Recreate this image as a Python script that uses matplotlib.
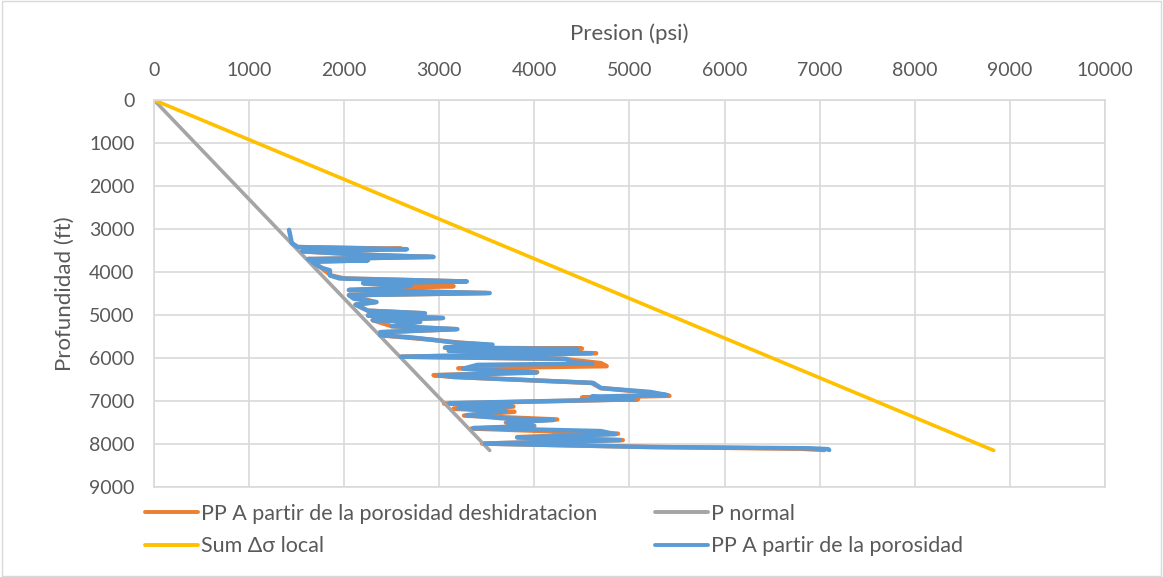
import numpy as np
import matplotlib.pyplot as plt

plt.rcParams['font.family'] = ['Lato', 'DejaVu Sans']

# ---------------------------------------------------------------
# data (depth ft, pressure psi)
# ---------------------------------------------------------------
normal_depth = [0, 8150]
normal_pres = [0, 3530]

sum_depth = [0, 8150]
sum_pres = [0, 8830]

blue_pts = [(3020, 1420), (3330, 1450), (3420, 1510), (3470, 2660), (3520, 1560),
            (3600, 2200), (3650, 2940), (3700, 1620), (3730, 2250), (3760, 1660),
            (3820, 1700), (3900, 1760), (3960, 1850), (4080, 1850), (4150, 1950),
            (4220, 3290), (4260, 2200), (4320, 2700), (4380, 2450), (4420, 2050),
            (4490, 3530), (4540, 2050), (4620, 2100), (4700, 2340), (4760, 2120),
            (4900, 2250), (4960, 2850), (5010, 2250), (5070, 3040), (5120, 2300),
            (5160, 2800), (5260, 2500), (5330, 3190), (5400, 2380), (5470, 2380),
            (5520, 2700), (5580, 2940), (5640, 3150), (5690, 3560), (5760, 3060),
            (5790, 4450), (5830, 3100), (5890, 4600), (5970, 2600), (6020, 4340),
            (6100, 4400), (6130, 4610), (6160, 3400), (6250, 3250), (6340, 4020),
            (6400, 3000), (6440, 3150), (6580, 4620), (6700, 4700), (6790, 5220),
            (6860, 5390), (6900, 4600), (6960, 5050), (7050, 3110), (7120, 3760),
            (7170, 3200), (7240, 3700), (7330, 3290), (7400, 3650), (7440, 4200),
            (7500, 3720), (7580, 3990), (7630, 3360), (7700, 4700), (7770, 4850),
            (7850, 3820), (7910, 4900), (7990, 3480), (8070, 5200), (8100, 6900),
            (8120, 7090), (8140, 7100)]

orange_pts = [(3330, 1450), (3420, 1510), (3460, 2600), (3520, 1560), (3600, 2250),
              (3650, 2900), (3700, 1620), (3730, 2200), (3760, 1660), (3900, 1760),
              (4080, 1860), (4150, 2000), (4220, 3250), (4260, 2200), (4330, 3150),
              (4380, 2450), (4420, 2050), (4490, 3500), (4540, 2050), (4700, 2330),
              (4760, 2120), (4900, 2250), (4960, 2830), (5010, 2250), (5070, 3030),
              (5120, 2300), (5260, 2500), (5330, 3170), (5400, 2380), (5470, 2380),
              (5580, 2940), (5640, 3200), (5690, 3500), (5760, 3060), (5780, 4500),
              (5830, 3100), (5890, 4650), (5970, 2600), (6020, 4300), (6120, 4700),
              (6190, 4760), (6240, 3200), (6330, 4030), (6400, 2940), (6440, 3150),
              (6580, 4600), (6700, 4700), (6800, 5200), (6880, 5420), (6920, 4500),
              (6960, 5090), (7060, 3050), (7130, 3780), (7180, 3150), (7250, 3790),
              (7340, 3260), (7430, 4240), (7500, 3700), (7580, 4000), (7640, 3340),
              (7760, 4880), (7840, 3820), (7910, 4930), (7990, 3450), (8070, 5250),
              (8110, 6800), (8140, 7050)]

blue_depth = [d for d, p in blue_pts]
blue_pres = [p for d, p in blue_pts]
orange_depth = [d for d, p in orange_pts]
orange_pres = [p for d, p in orange_pts]

# ---------------------------------------------------------------
# plot
# ---------------------------------------------------------------
txt = '#595959'
grid = '#d9d9d9'

fig = plt.figure(figsize=(11.63, 5.77), dpi=100)
ax = fig.add_axes([0.1324, 0.156, 0.8177, 0.6707])

kw = dict(solid_capstyle='round', solid_joinstyle='round')
l_or, = ax.plot(orange_pres, orange_depth, color='#ED7D31', lw=3.2, **kw)
l_gr, = ax.plot(normal_pres, normal_depth, color='#A5A5A5', lw=2.6, **kw)
l_ye, = ax.plot(sum_pres, sum_depth, color='#FFC000', lw=2.6, **kw)
l_bl, = ax.plot(blue_pres, blue_depth, color='#5B9BD5', lw=3.2, **kw)

ax.set_xlim(0, 10000)
ax.set_ylim(9000, 0)
ax.set_xticks(np.arange(0, 10001, 1000))
ax.set_yticks(np.arange(0, 9001, 1000))
ax.xaxis.tick_top()
ax.xaxis.set_label_position('top')
ax.tick_params(axis='x', length=0, labelsize=14, colors=txt, pad=15)
ax.tick_params(axis='y', length=0, labelsize=14, colors=txt, pad=14)
ax.grid(True, color=grid, lw=1.2)
ax.set_axisbelow(True)
for s in ax.spines.values():
    s.set_color(grid)
    s.set_linewidth(1.2)

ax.set_xlabel('Presion (psi)', fontsize=16, color=txt, labelpad=16)
ax.set_ylabel('Profundidad (ft)', fontsize=16, color=txt, labelpad=10)

# legend: two single-column legends so the columns sit where they do in the chart
leg_kw = dict(loc='upper left', frameon=False, fontsize=15.5, labelcolor=txt,
              handlelength=2.45, handletextpad=0.15, labelspacing=0.58,
              borderpad=0, borderaxespad=0)
leg1 = fig.legend([l_or, l_ye],
                  ['PP A partir de la porosidad deshidratacion', 'Sum \u0394\u03c3 local'],
                  bbox_to_anchor=(145 / 1163, 1 - 504 / 577), **leg_kw)
leg2 = fig.legend([l_gr, l_bl], ['P normal', 'PP A partir de la porosidad'],
                  bbox_to_anchor=(655 / 1163, 1 - 504 / 577), **leg_kw)
for lg in (leg1, leg2):
    for h in lg.get_lines():
        h.set_linewidth(2.8)

# chart border
fig.patches.append(plt.Rectangle((0.002, 0.002), 0.996, 0.996, transform=fig.transFigure,
                                 fill=False, edgecolor='#d9d9d9', lw=1))

fig.savefig('out.png', dpi=100)
